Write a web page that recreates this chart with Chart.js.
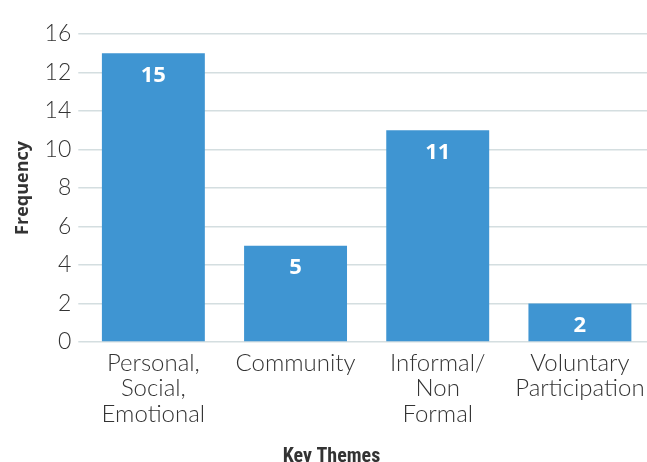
<!DOCTYPE html>
<html lang="en">
<head>
    <meta charset="UTF-8">
    <title>Key Themes</title>
    <script src="https://cdn.jsdelivr.net/npm/chart.js"></script>
    <style>
        body {
            margin: 0;
            padding: 0;
            background-color: #fff;
            overflow: hidden;
        }

        .chart-container {
            position: relative;
            width: 652px;
            height: 462px;
        }
    </style>
</head>
<body>
    <div class="chart-container">
        <canvas id="themeChart"></canvas>
    </div>

    <script>
        const categories = [
            ['Personal,', 'Social,', 'Emotional'],
            'Community',
            ['Informal/', 'Non', 'Formal'],
            ['Voluntary', 'Participation']
        ];
        const frequencies = [15, 5, 11, 2];
        // tick labels as printed in the original (12 and 14 are swapped there)
        const yTickLabels = ['0', '2', '4', '6', '8', '10', '14', '12', '16'];

        const barColor = '#3f95d2';
        const gridColor = '#d4dee0';
        const textColor = '#333333';

        // white value labels near the top of each bar
        const valueLabels = {
            id: 'valueLabels',
            afterDatasetsDraw(chart) {
                const ctx = chart.ctx;
                const meta = chart.getDatasetMeta(0);
                ctx.save();
                ctx.fillStyle = '#ffffff';
                ctx.font = 'bold 22px "Open Sans", sans-serif';
                ctx.textAlign = 'center';
                ctx.textBaseline = 'middle';
                meta.data.forEach((bar, i) => {
                    ctx.fillText(String(frequencies[i]), bar.x, bar.y + 22);
                });
                ctx.restore();
            }
        };

        const ctx = document.getElementById('themeChart').getContext('2d');
        new Chart(ctx, {
            type: 'bar',
            data: {
                labels: categories,
                datasets: [{
                    data: frequencies,
                    backgroundColor: barColor,
                    categoryPercentage: 1,
                    barPercentage: 0.724
                }]
            },
            options: {
                responsive: true,
                maintainAspectRatio: false,
                animation: false,
                layout: {
                    padding: { top: 34, right: 1, bottom: 0, left: 12 }
                },
                plugins: {
                    legend: { display: false },
                    tooltip: { enabled: false },
                    title: {
                        display: true,
                        position: 'bottom',
                        text: 'Key Themes',
                        color: textColor,
                        font: { family: 'Roboto Condensed, "Open Sans", sans-serif', size: 20, weight: 'bold' },
                        padding: { top: 18, bottom: -7 }
                    }
                },
                scales: {
                    x: {
                        grid: { display: false },
                        border: { display: false },
                        ticks: {
                            color: textColor,
                            font: { family: 'Lato', size: 24, weight: 300, lineHeight: 1.07 },
                            padding: 0,
                            maxRotation: 0,
                            autoSkip: false
                        }
                    },
                    y: {
                        min: 0,
                        max: 16,
                        border: { display: false },
                        grid: {
                            color: gridColor,
                            lineWidth: 1.5,
                            drawTicks: true,
                            tickLength: 4
                        },
                        ticks: {
                            stepSize: 2,
                            color: textColor,
                            padding: 7,
                            font: { family: 'Lato', size: 23, weight: 300 },
                            callback: (value) => yTickLabels[value / 2]
                        },
                        title: {
                            display: true,
                            text: 'Frequency',
                            color: textColor,
                            font: { family: '"Open Sans", sans-serif', size: 18, weight: 'bold' },
                            padding: { top: 0, bottom: 4 }
                        }
                    }
                }
            },
            plugins: [valueLabels]
        });
    </script>
</body>
</html>
